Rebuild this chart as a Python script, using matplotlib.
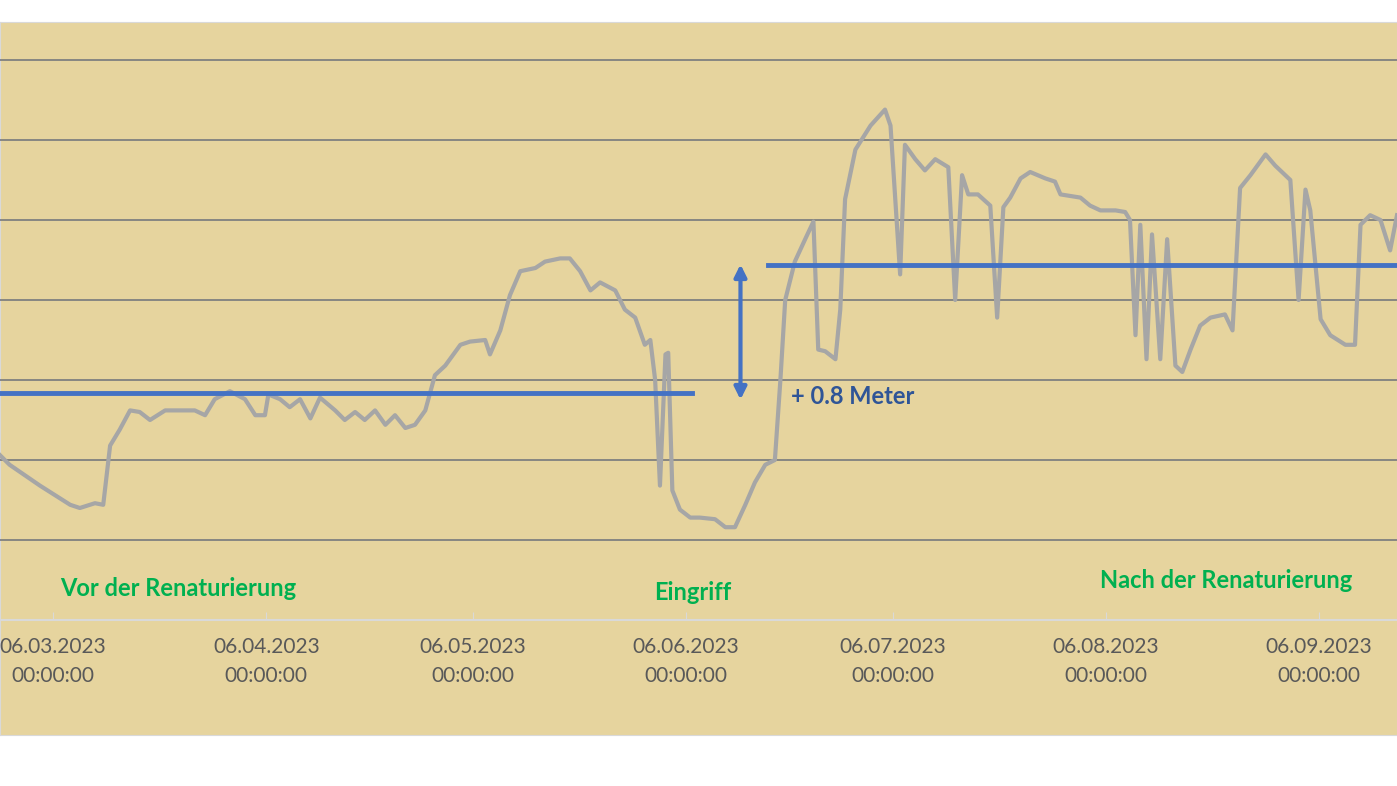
import matplotlib
matplotlib.use("Agg")
import matplotlib.pyplot as plt
from datetime import datetime, timedelta

base = datetime(2023, 3, 6)
days = [-7.7,-6.3,-1.9,2.5,3.9,6.1,7.3,8.3,9.7,11.2,12.6,14.1,16.3,20.6,22.1,23.5,25.7,27.9,29.4,30.8,31.3,33.0,34.4,35.9,37.4,38.8,41.0,42.4,43.9,45.3,46.8,48.3,49.7,51.2,52.6,54.1,55.5,57.0,59.2,60.6,62.8,63.5,65.0,66.4,67.9,70.1,71.5,73.7,75.1,76.6,78.1,79.5,81.7,83.1,84.6,86.0,86.8,87.5,88.2,89.0,89.4,90.0,91.1,92.6,94.0,96.2,97.7,99.1,100.6,102.0,103.5,104.9,105.7,106.4,107.8,109.3,110.5,111.2,112.2,113.7,114.4,115.1,116.6,118.8,120.9,121.7,123.1,123.8,125.3,126.7,128.2,130.1,131.1,132.1,133.0,134.4,136.2,137.2,138.1,139.1,140.6,142.0,144.2,145.6,146.4,149.3,150.7,152.2,154.4,155.8,156.5,157.3,158.0,158.9,159.7,160.9,161.9,163.1,164.1,165.3,166.7,168.2,170.3,171.4,172.5,174.0,176.2,177.6,179.8,181.0,182.0,182.7,184.2,185.6,187.8,189.2,190.0,191.4,192.9,194.3,195.3]
levels = [1.03,0.97,0.84,0.72,0.70,0.73,0.72,1.09,1.19,1.31,1.30,1.25,1.31,1.31,1.28,1.38,1.43,1.38,1.28,1.28,1.41,1.38,1.33,1.38,1.26,1.39,1.31,1.25,1.30,1.25,1.31,1.22,1.28,1.20,1.22,1.31,1.53,1.59,1.72,1.74,1.75,1.66,1.81,2.03,2.18,2.20,2.24,2.26,2.26,2.18,2.06,2.11,2.06,1.94,1.89,1.72,1.75,1.50,0.84,1.66,1.67,0.81,0.69,0.64,0.64,0.63,0.58,0.58,0.72,0.86,0.97,1.00,1.50,2.00,2.24,2.38,2.49,1.69,1.68,1.63,1.94,2.63,2.94,3.09,3.19,3.09,2.16,2.97,2.88,2.81,2.88,2.83,2.00,2.78,2.66,2.66,2.59,1.89,2.58,2.64,2.76,2.80,2.76,2.74,2.66,2.64,2.59,2.56,2.56,2.55,2.50,1.78,2.47,1.63,2.41,1.63,2.38,1.59,1.55,1.69,1.84,1.89,1.91,1.81,2.70,2.78,2.91,2.84,2.75,2.00,2.69,2.56,1.88,1.78,1.72,1.72,2.47,2.53,2.50,2.31,2.53]
mean_before = 1.42
mean_after = 2.22
before_span = (-8.0, 92.9)
after_span = (103.9, 196.0)
tick_dates = ["06.03.2023","06.04.2023","06.05.2023","06.06.2023","06.07.2023","06.08.2023","06.09.2023"]
phase_labels = ["Vor der Renaturierung", "Eingriff", "Nach der Renaturierung"]

def d(x):
    return base + timedelta(days=x)

fig = plt.figure(figsize=(13.97, 7.86), dpi=100)
fig.patch.set_facecolor("white")
bg = fig.add_axes([0, 51/786, 1, (735-22)/786], zorder=0)
bg.set_facecolor("#E6D49E")
bg.set_xticks([]); bg.set_yticks([])
for s in bg.spines.values():
    s.set_color("#D9D9D9")

ax = fig.add_axes([0, (786-620)/786, 1, (620-22)/786], zorder=1)
ax.set_facecolor("none")
ax.set_ylim(0, 598/160)
ax.set_xlim(d(-7.7), d(195.3))
for g in [0.5, 1.0, 1.5, 2.0, 2.5, 3.0, 3.5]:
    ax.axhline(g, color="#808080", lw=1.3, zorder=1)
for s in ["top", "right", "left"]:
    ax.spines[s].set_visible(False)
ax.spines["bottom"].set_color("#D9D9D9")
ax.spines["bottom"].set_linewidth(1.5)
ax.set_yticks([])

ax.plot([d(x) for x in days], levels, color="#A6A6A6", lw=3, zorder=3)
ax.plot([d(before_span[0]), d(before_span[1])], [mean_before]*2, color="#4472C4", lw=3.5, zorder=4)
ax.plot([d(after_span[0]), d(after_span[1])], [mean_after]*2, color="#4472C4", lw=3.5, zorder=4)
ax.annotate("", xy=(d(99.9), mean_after+0.02), xytext=(d(99.9), mean_before-0.06),
            arrowprops=dict(arrowstyle="<|-|>", color="#4472C4", lw=3, mutation_scale=18), zorder=5)
ax.text(d(107.3), 1.40, "+ 0.8 Meter", color="#2F5597", fontsize=17, fontweight="bold",
        family="Lato", va="center", ha="left")

green = "#00B050"
ax.text(d(18.2), 0.20, phase_labels[0], color=green, fontsize=17, fontweight="bold", family="Lato", ha="center", va="center")
ax.text(d(92.9), 0.17, phase_labels[1], color=green, fontsize=17, fontweight="bold", family="Lato", ha="center", va="center")
ax.text(d(152.2), 0.25, phase_labels[2], color=green, fontsize=17, fontweight="bold", family="Lato", ha="left", va="center")

ticks = [datetime.strptime(t, "%d.%m.%Y") for t in tick_dates]
ax.set_xticks(ticks)
ax.set_xticklabels([t + "\n00:00:00" for t in tick_dates], color="#595959", fontsize=15, family="Lato", linespacing=1.6)
ax.tick_params(axis="x", direction="in", length=6, color="#D9D9D9", pad=12)

fig.savefig("out.png", dpi=100)
